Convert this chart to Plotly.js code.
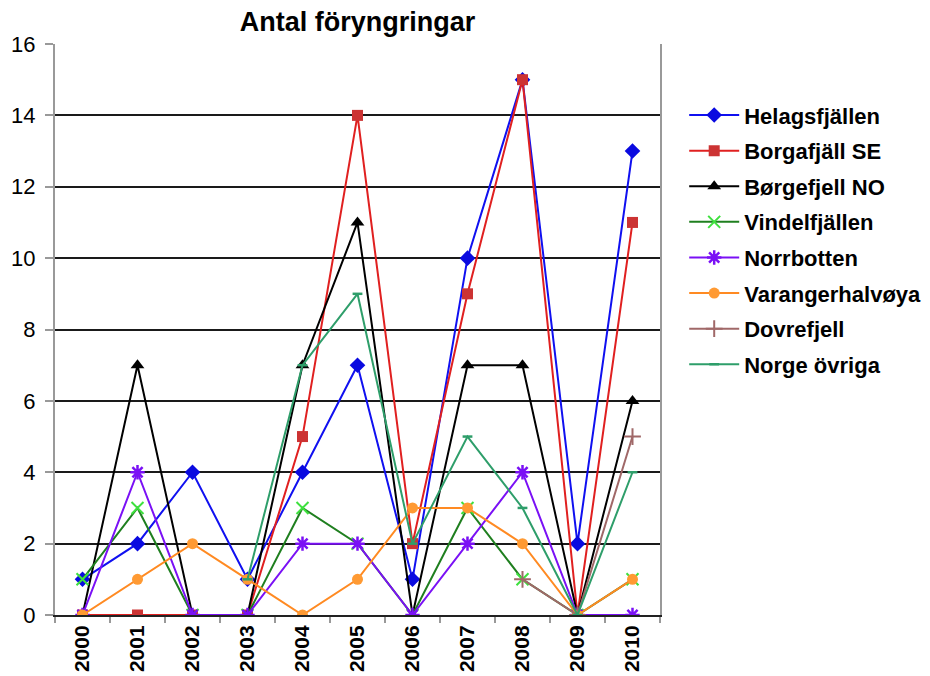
<!DOCTYPE html>
<html><head><meta charset="utf-8">
<script src="https://cdn.plot.ly/plotly-3.0.1.min.js"></script>
<style>body{margin:0;background:#fff}#chart{width:930px;height:676px}</style>
</head><body><div id="chart"></div>
<script>
const years = ['2000','2001','2002','2003','2004','2005','2006','2007','2008','2009','2010'];
const seriesNames = ['Helagsfjällen','Borgafjäll SE','Børgefjell NO','Vindelfjällen','Norrbotten','Varangerhalvøya','Dovrefjell','Norge övriga'];
const helagsfjallen   = [1,2,4,1,4,7,1,10,15,2,13];
const borgafjallSE    = [0,0,0,0,5,14,2,9,15,0,11];
const borgefjellNO    = [0,7,0,0,7,11,0,7,7,0,6];
const vindelfjallen   = [1,3,0,0,3,2,0,3,1,0,1];
const norrbotten      = [0,4,0,0,2,2,0,2,4,0,0];
const varangerhalvoya = [0,1,2,1,0,1,3,3,2,0,1];
const dovrefjell      = [null,null,null,null,null,null,null,null,1,0,5];
const norgeOvriga     = [null,null,null,1,7,9,2,5,3,0,4];
const yTicks = [0,2,4,6,8,10,12,14,16];

const values = [helagsfjallen,borgafjallSE,borgefjellNO,vindelfjallen,norrbotten,varangerhalvoya,dovrefjell,norgeOvriga];
const styles = [
  {line:'#1010f0', marker:{symbol:'diamond', size:12, color:'#0a0ae0'}},
  {line:'#e02020', marker:{symbol:'square', size:11, color:'#cc3333'}},
  {line:'#000000', marker:{symbol:'triangle-up', size:12, color:'#000000'}},
  {line:'#1f7f1f', marker:{symbol:'x-thin-open', size:12, color:'#3ee03e', line:{color:'#3ee03e', width:2}}},
  {line:'#7a10f5', marker:{symbol:'asterisk-open', size:12, color:'#7a10f5', line:{color:'#7a10f5', width:2.5}}},
  {line:'#ff8a22', marker:{symbol:'circle', size:11, color:'#ff9a33'}},
  {line:'#a06868', marker:{symbol:'cross-thin-open', size:12, color:'#a06868', line:{color:'#a06868', width:2}}},
  {line:'#2e9e6a', marker:{symbol:'line-ew-open', size:7, color:'#2e9e6a', line:{color:'#2e9e6a', width:2.5}}}
];

const traces = seriesNames.map((n,i)=>({
  type:'scatter', mode:'lines+markers', name:'<b>'+n+'</b>', x:years, y:values[i],
  legendgroup:'g'+i, connectgaps:false,
  line:{color:styles[i].line, width:2},
  marker:styles[i].marker
}));

const layout = {
  width:930, height:676,
  margin:{l:55, r:270, t:44, b:61, autoexpand:false},
  paper_bgcolor:'#fff', plot_bgcolor:'#fff',
  font:{family:'"Liberation Sans", Arial, sans-serif', color:'#000'},
  title:{text:'<b>Antal föryngringar</b>', font:{size:27, color:'#000'}, xref:'paper', x:0.5, xanchor:'center', yref:'container', y:1-22/676, yanchor:'middle'},
  xaxis:{type:'category', tickvals:years, ticktext:years.map(y=>'<b>'+y+'</b>'), tickangle:-90,
    tickson:'boundaries', ticks:'outside', ticklen:6, tickcolor:'#999', tickwidth:1.5,
    showgrid:false, showline:true, linecolor:'#222', linewidth:2, zeroline:false,
    range:[-0.5,10.5], tickfont:{size:21, color:'#000'}, fixedrange:true, automargin:false},
  yaxis:{range:[0,16], tickvals:yTicks, ticks:'outside', ticklen:8, tickcolor:'#999', tickwidth:2,
    showline:true, linecolor:'#999', linewidth:2, mirror:true,
    showgrid:true, gridcolor:'#1a1a1a', gridwidth:2, zeroline:false,
    tickfont:{size:22, color:'#000'}, ticklabelstandoff:5, fixedrange:true, automargin:false},
  legend:{x:1.04, xanchor:'left', y:0.912, yanchor:'top', traceorder:'grouped', tracegroupgap:4,
    font:{size:22, color:'#000'}, bgcolor:'rgba(0,0,0,0)', itemwidth:50},
  showlegend:true
};
Plotly.newPlot('chart', traces, layout, {displayModeBar:false, staticPlot:true});
</script></body></html>
